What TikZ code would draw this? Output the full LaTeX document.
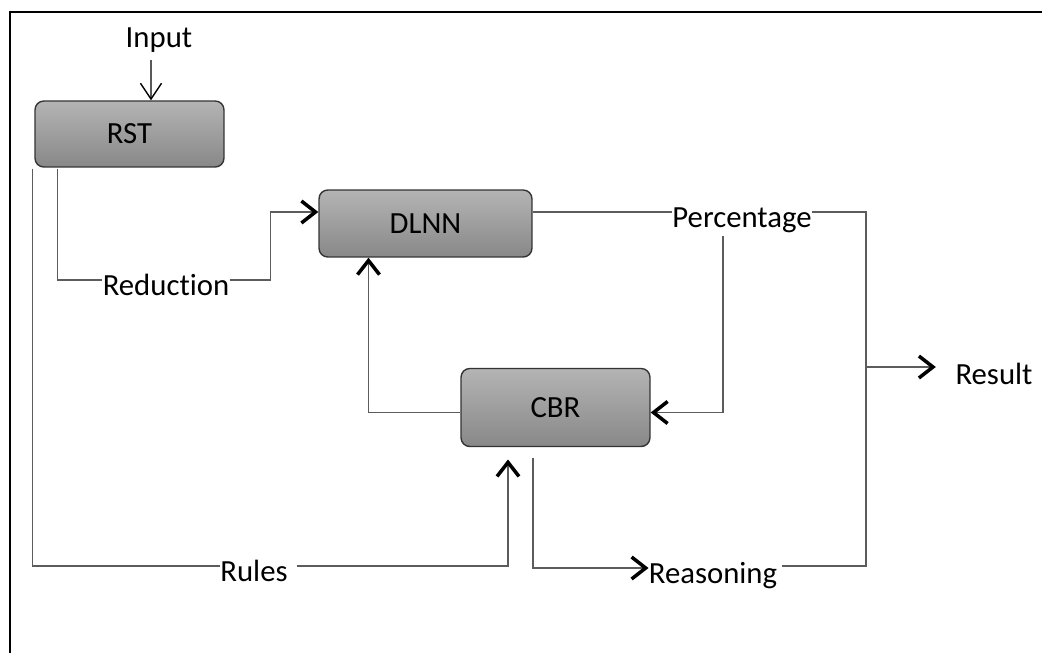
\documentclass[tikz,border=0pt]{standalone}
\usepackage{fontspec}
\setmainfont{Carlito}[Ligatures={NoCommon}]
\usetikzlibrary{arrows.meta,calc}
\definecolor{boxtop}{HTML}{B4B4B4}
\definecolor{boxbot}{HTML}{888888}
\definecolor{wirecol}{HTML}{5C5C5C}

\begin{document}
\begin{tikzpicture}[
  x=0.02cm, y=-0.02cm,
  font=\fontsize{17.5}{21}\selectfont,
  blk/.style={draw=black!80, rounded corners=5pt, top color=boxtop, bottom color=boxbot, line width=0.8pt, text=black},
  lbl/.style={inner sep=0pt, text height=18pt, text depth=0pt, text=black},
  wire/.style={draw=wirecol, line width=0.85pt},
  arr/.style={wire, -{Straight Barb[length=8pt, width=12.5pt, line width=2pt, color=black]}},
  inarr/.style={draw=black, line width=0.8pt, -{Straight Barb[length=9pt, width=12pt, color=black]}},
  frm/.style={draw=black, line width=0.9pt}
]
\useasboundingbox (0,0) rectangle (1042,653);
\draw[frm] (10,653) -- (10,12) -- (1042,12);

\node[blk, minimum width=3.78cm, minimum height=1.32cm] (rst) at (129.5,134) {RST};
\node[blk, minimum width=4.26cm, minimum height=1.34cm] (dlnn) at (425.5,223.5) {DLNN};
\node[blk, minimum width=3.78cm, minimum height=1.56cm] (cbr) at (555.5,407.5) {CBR};

\node[lbl] (input) at (159,32) {Input};
\node[lbl] (reduction) at (166,280) {Reduct\kern0pt ion};
\node[lbl] (percentage) at (742,212) {Percentage};
\node[lbl] (rules) at (254,566) {Rules};
\node[lbl] (reasoning) at (713,568) {Reasoning};
\node[lbl] (result) at (994,369) {Result};
\coordinate (merge) at (866,367);

\draw[inarr] ($(input.south)+(-8,12)$) -- ($(rst.north)+(21.5,0)$);
\draw[wire] ($(rst.south west)+(23,1)$) |- (reduction.west);
\draw[arr] (reduction.east) -- ++(41,0) |- ($(dlnn.west)+(0,-11.5)$);
\draw[wire] ($(dlnn.east)+(0,-11.5)$) -- (percentage.west);
\draw[wire] (percentage.east) -| (merge) |- ($(reasoning.east)+(5,-2)$);
\draw[arr, shorten >=11pt] (merge) -- (result.west |- merge);
\draw[arr] ($(percentage.south)+(-19,8)$) |- ($(cbr.east)+(0,5)$);
\draw[arr] ($(cbr.west)+(0,5)$) -| ($(dlnn.south)+(-57,0)$);
\draw[wire] ($(rst.south west)+(-2,1)$) |- (rules.west);
\draw[arr, shorten <=5pt, shorten >=7pt] (rules.east) -| ($(cbr.south)+(-47.5,0)$);
\draw[arr] ($(cbr.south)+(-22.5,11)$) |- (reasoning.west);
\end{tikzpicture}
\end{document}
